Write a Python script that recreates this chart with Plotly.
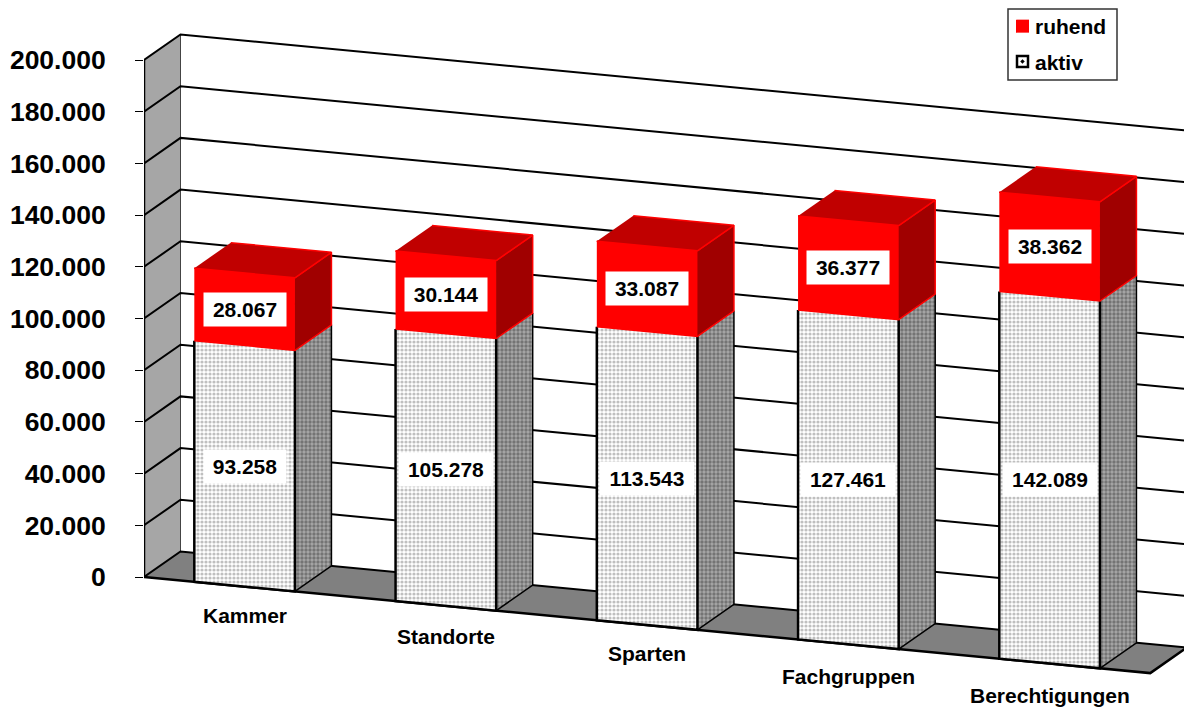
import plotly.graph_objects as go

# ---- data -------------------------------------------------------------
categories = ["Kammer", "Standorte", "Sparten", "Fachgruppen", "Berechtigungen"]
aktiv = [93258, 105278, 113543, 127461, 142089]
ruhend = [28067, 30144, 33087, 36377, 38362]
y_ticks = [0, 20000, 40000, 60000, 80000, 100000, 120000, 140000, 160000, 180000, 200000]

# ---- oblique projection (axis units) -----------------------------------
PX_PER_CAT = 201.25
PX_PER_VAL = 517 / 200000
X0, Y0 = 144, 577
W, H = 1184, 708
SKEW = 0.0955 * PX_PER_CAT / PX_PER_VAL   # value units lost per category
DEPTH_X = 36.5 / PX_PER_CAT
DEPTH_Y = 25.5 / PX_PER_VAL
BAR_L, BAR_R = 0.25, 0.75


def proj(c, v, d=0):
    return c + d * DEPTH_X, v - c * SKEW + d * DEPTH_Y


def de(n):
    return f"{n:,}".replace(",", ".")


fig = go.Figure()


def poly(points, fill=None, line=None, width=0, pattern=None):
    xs, ys = zip(*[proj(*p) for p in points])
    kw = dict(
        x=list(xs), y=list(ys), mode="lines", hoverinfo="skip",
        showlegend=False, cliponaxis=False,
        line=dict(color=line or "rgba(0,0,0,0)", width=width),
    )
    if fill or pattern:
        kw["fill"] = "toself"
        kw["fillcolor"] = fill or "rgba(0,0,0,0)"
    if pattern:
        kw["fillpattern"] = pattern
    fig.add_trace(go.Scatter(**kw))


N = len(categories)
TOP = y_ticks[-1]

# left wall and floor
poly([(0, 0, 0), (0, TOP, 0), (0, TOP, 1), (0, 0, 1)], fill="#A6A6A6")
poly([(0, 0, 0), (N, 0, 0), (N, 0, 1), (0, 0, 1)], fill="#808080")
poly([(0, 0, 1), (0, TOP, 1)], line="#444444", width=1)

# gridlines: along the wall, then along the back
for t in y_ticks:
    poly([(0, t, 0), (0, t, 1), (N, t, 1)], line="#000000", width=2)
poly([(0, 0, 0), (0, TOP, 0)], line="#000000", width=2.5)
poly([(0, 0, 0), (N, 0, 0), (N, 0, 1)], line="#000000", width=2.5)

front_pat = dict(shape=".", size=4, solidity=0.5, fgcolor="#808080", bgcolor="#ffffff")
side_pat = dict(shape=".", size=4, solidity=0.55, fgcolor="#404040", bgcolor="#a8a8a8")

# bars
for i in range(N):
    l, r = i + BAR_L, i + BAR_R
    a = aktiv[i]
    t = a + ruhend[i]
    poly([(l, 0), (r, 0), (r, a), (l, a)], pattern=front_pat, fill="#ffffff")
    poly([(r, 0, 0), (r, 0, 1), (r, a, 1), (r, a, 0)], pattern=side_pat, fill="#a8a8a8")
    poly([(l, a), (l, 0), (r, 0), (r, a)], line="#000000", width=2.5)
    poly([(r, 0, 0), (r, 0, 1), (r, a, 1)], line="#000000", width=1.5)
    poly([(l, a), (r, a), (r, t), (l, t)], fill="#FF0000", line="#FF0000", width=1.5)
    poly([(r, a, 0), (r, a, 1), (r, t, 1), (r, t, 0)], fill="#A00000", line="#FF0000", width=1.5)
    poly([(l, t, 0), (r, t, 0), (r, t, 1), (l, t, 1)], fill="#C00000", line="#FF0000", width=1.5)

    # value labels on the front face
    mid = (l + r) / 2
    for val, centre in ((a, a / 2), (ruhend[i], a + ruhend[i] / 2)):
        x, y = proj(mid, centre)
        s = de(val)
        fig.add_annotation(
            x=x, y=y, text=f"<b>{s}</b>", showarrow=False, borderpad=0,
            bgcolor="#ffffff", width=82 if len(s) == 6 else 94, height=33,
            font=dict(family="Liberation Sans", size=21, color="#000000"),
        )

# category labels below the floor edge
label_drop = [29, 31, 28, 32, 32.5]
for i, name in enumerate(categories):
    x, y = proj(i + 0.5, -label_drop[i] / PX_PER_VAL)
    fig.add_annotation(
        x=x, y=y, text=f"<b>{name}</b>", showarrow=False,
        font=dict(family="Liberation Sans", size=21, color="#000000"),
    )

# legend entries
fig.add_trace(go.Scatter(
    x=[None], y=[None], mode="markers", name="<b>ruhend</b>", legendgroup="r",
    marker=dict(symbol="square", size=13, color="#FF0000"),
))
fig.add_trace(go.Scatter(
    x=[None], y=[None], mode="markers", name="<b>aktiv</b>", legendgroup="a",
    marker=dict(symbol="square-open-dot", size=11, color="#000000", line=dict(width=2.5, color="#000000")),
))

PW = W - X0
fig.update_layout(
    width=W, height=H,
    margin=dict(l=X0, r=0, t=0, b=0, autoexpand=False),
    paper_bgcolor="#ffffff", plot_bgcolor="#ffffff",
    font=dict(family="Liberation Sans", color="#000000"),
    xaxis=dict(range=[0, PW / PX_PER_CAT], visible=False, fixedrange=True),
    yaxis=dict(
        range=[(Y0 - H) / PX_PER_VAL, Y0 / PX_PER_VAL],
        tickvals=y_ticks, ticktext=[f"<b>{de(t)}</b>" for t in y_ticks],
        tickfont=dict(family="Liberation Sans", size=26.5, color="#000000"),
        ticks="outside", ticklen=8, tickwidth=1, tickcolor="#000000",
        ticklabelstandoff=24, showgrid=False, zeroline=False, showline=False, fixedrange=True,
    ),
    legend=dict(
        x=(1008 - X0) / PW, y=1 - 6 / H, xref="paper", yref="paper",
        xanchor="left", yanchor="top",
        bgcolor="rgba(0,0,0,0)", borderwidth=0,
        font=dict(family="Liberation Sans", size=21, color="#000000"),
        traceorder="grouped", tracegroupgap=5, indentation=-13,
        itemclick=False, itemdoubleclick=False,
    ),
    hovermode=False,
    shapes=[dict(
        type="rect", xref="paper", yref="paper", layer="above",
        x0=(1008 - X0) / PW, x1=(1117 - X0) / PW, y0=1 - 80 / H, y1=1 - 9 / H,
        fillcolor="#ffffff", line=dict(color="#333333", width=1.5),
    )],
)

fig.write_html(
    "out.html", config=dict(displayModeBar=False),
    post_script="document.body.style.margin='0';"
                "document.querySelectorAll('.legend .legendpoints').forEach(function(g){"
                "g.setAttribute('transform','translate(7.5,0)');});",
)
